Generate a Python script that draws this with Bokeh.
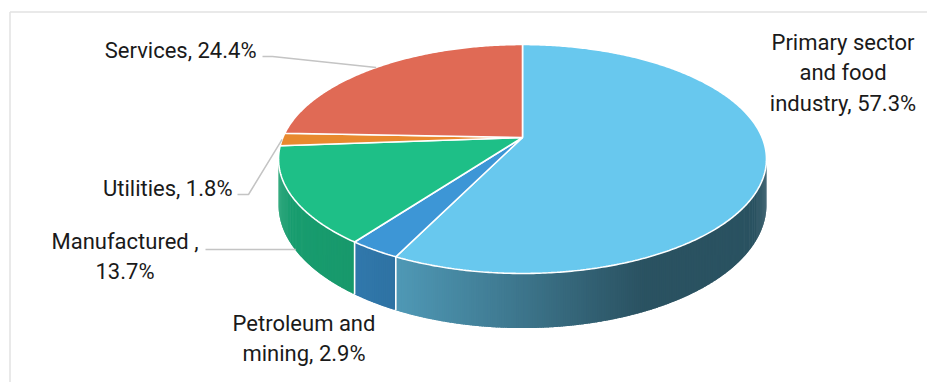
import numpy as np
from bokeh.plotting import figure
from bokeh.models import Range1d
from bokeh.core.properties import value
from bokeh.embed import file_html
from bokeh.resources import INLINE

# ---------------- data ----------------
categories = ["Primary sector and food industry", "Petroleum and mining",
              "Manufactured", "Utilities", "Services"]
shares = [57.3, 2.9, 13.7, 1.8, 24.4]
label_texts = ["Primary sector\nand food\nindustry, 57.3%",
               "Petroleum and\nmining, 2.9%",
               "Manufactured ,\n13.7%",
               "Utilities, 1.8%",
               "Services, 24.4%"]
top_colors = ["#68c8ee", "#3d96d6", "#1ebf87", "#e8892f", "#e06a55"]

# ---------------- geometry (perspective projection of a disc) ----------------
CX, CY = 522.0, 137.0
A, B, DD = 1276.0, 588.0, 5.325
DROP = 44.4


def top_pt(phi, r=1.0):
    u, v = r * np.sin(phi), r * np.cos(phi)
    s = 1.0 / (DD + v)
    return CX + A * u * s, CY - B * v * s


def bot_pt(phi):
    x, y = top_pt(phi)
    v = np.cos(phi)
    return x, y + DROP * DD / (DD + v)


def shade(hexcol, f):
    h = hexcol.lstrip("#")
    r, g, b = (int(h[i:i + 2], 16) for i in (0, 2, 4))
    return "#%02x%02x%02x" % (int(r * f), int(g * f), int(b * f))


shade_x = [270, 360, 400, 500, 600, 645, 800]
shade_f = [0.83, 0.80, 0.76, 0.62, 0.47, 0.41, 0.41]

total = float(sum(shares))
cum = np.concatenate([[0.0], np.cumsum(shares)]) / total * 2 * np.pi
starts, ends = cum[:-1], cum[1:]

phiR = np.arccos(-1.0 / DD)
phiL = 2 * np.pi - phiR

p = figure(width=927, height=382, x_range=Range1d(0, 927), y_range=Range1d(382, 0),
           x_axis_type=None, y_axis_type=None, output_backend="svg",
           toolbar_location=None, min_border=0)
p.grid.visible = False
p.outline_line_color = None
p.background_fill_color = "white"
p.border_fill_color = "white"

# frame
p.line([9.5, 927], [11.5, 11.5], line_color="#e2e2e2", line_width=1.5)
p.line([9.5, 9.5], [11.5, 382], line_color="#e2e2e2", line_width=1.5)

# ---------------- side walls ----------------
for i in range(len(shares)):
    a, b = max(starts[i], phiR), min(ends[i], phiL)
    if a >= b:
        continue
    n = max(2, int((b - a) / 0.008))
    edges = np.linspace(a, b, n + 1)
    step = edges[1] - edges[0]
    xs_list, ys_list, cols = [], [], []
    for k in range(n):
        e1 = min(edges[k + 1] + 0.8 * step, b)
        ph = np.linspace(edges[k], e1, 4)
        tx, ty = top_pt(ph)
        bx, by = bot_pt(ph[::-1])
        xs_list.append(list(tx) + list(bx))
        ys_list.append(list(ty) + list(by))
        xm = top_pt((edges[k] + edges[k + 1]) / 2)[0]
        cols.append(shade(top_colors[i], float(np.interp(xm, shade_x, shade_f))))
    p.patches(xs_list, ys_list, fill_color=cols, line_color=None)

# white vertical edges between slices on the side wall
for ph in cum:
    if phiR < ph < phiL:
        tx, ty = top_pt(ph)
        bx, by = bot_pt(ph)
        p.line([tx, bx], [ty, by], line_color="white", line_width=1.6)

# ---------------- top face ----------------
xs_top, ys_top = [], []
for i in range(len(shares)):
    ph = np.linspace(starts[i], ends[i], max(3, int((ends[i] - starts[i]) / 0.01)))
    tx, ty = top_pt(ph)
    xs_top.append([CX] + list(tx))
    ys_top.append([CY] + list(ty))
p.patches(xs_top, ys_top, fill_color=top_colors, line_color="white", line_width=1.6)

# ---------------- leader lines ----------------
mid = (starts + ends) / 2
lead_col = "#c4c4c4"
sx, sy = top_pt(mid[4])
p.line([262, 272, sx], [56, 56, sy], line_color=lead_col, line_width=1.5)
ux, uy = top_pt(mid[3])
p.line([237, 248, ux], [194, 194, uy], line_color=lead_col, line_width=1.5)
mx, my = bot_pt(mid[2])
p.line([205, mx + 4], [249, 249], line_color=lead_col, line_width=1.5)

# ---------------- labels ----------------
lab_x = [842.5, 303.5, 124.5, 232, 256]
lab_y = [72, 338, 256, 188, 50]
lab_align = ["center", "center", "center", "right", "right"]
for i in range(len(shares)):
    p.text([lab_x[i]], [lab_y[i]], text=[label_texts[i]], text_font=value("Roboto"),
           text_font_size="22px", text_align=lab_align[i], text_baseline="middle",
           text_color="#1a1a1a", text_line_height=1.22)

open("out.html", "w").write(file_html(p, INLINE))
